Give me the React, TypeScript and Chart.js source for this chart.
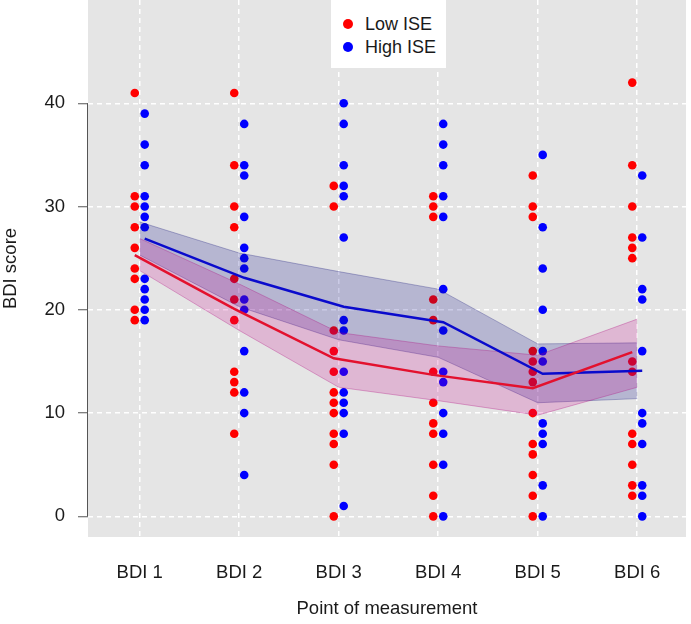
import React, { useEffect, useRef } from 'react';
import { Chart, registerables } from 'chart.js';

Chart.register(...registerables);

// ---------- data ----------
const categories = ['BDI 1', 'BDI 2', 'BDI 3', 'BDI 4', 'BDI 5', 'BDI 6'];
const yTicks = [0, 10, 20, 30, 40];

// individual BDI scores per point of measurement
const lowISEScores = [
  [41, 31, 30, 28, 26, 24, 23, 20, 19],
  [41, 34, 30, 28, 23, 21, 19, 14, 13, 12, 8],
  [32, 30, 18, 16, 14, 12, 11, 10, 8, 7, 5, 0],
  [31, 30, 29, 21, 19, 14, 11, 9, 8, 5, 2, 0],
  [33, 30, 29, 16, 15, 14, 13, 10, 7, 6, 4, 2, 0],
  [42, 34, 30, 27, 26, 25, 15, 14, 8, 7, 5, 3, 2],
];
const highISEScores = [
  [39, 36, 34, 31, 30, 29, 28, 23, 22, 21, 20, 19],
  [38, 34, 33, 29, 26, 25, 24, 21, 20, 16, 12, 10, 4],
  [40, 38, 34, 32, 31, 27, 19, 18, 14, 12, 11, 10, 8, 1],
  [38, 36, 34, 31, 29, 22, 18, 14, 13, 10, 8, 5, 0],
  [35, 28, 24, 20, 16, 15, 9, 8, 7, 3, 0],
  [33, 27, 22, 21, 16, 10, 9, 7, 3, 2, 0],
];

// estimated means and confidence bands
const lowMean = [25.3, 20.1, 15.3, 13.7, 12.4, 15.9];
const highMean = [26.9, 23.1, 20.3, 18.8, 13.8, 14.1];
const lowUpper = [26.9, 22.5, 17.8, 16.5, 15.6, 19.1];
const lowLower = [23.8, 18.0, 12.5, 11.2, 9.8, 12.5];
const highUpper = [28.5, 25.5, 23.7, 22.0, 16.7, 16.8];
const highLower = [25.3, 20.3, 17.1, 15.4, 11.0, 11.4];

// ---------- styling ----------
const FONT = '"Liberation Sans", Arial, Helvetica, sans-serif';
const TEXT = '#1a1a1a';
const DODGE = 0.05;
const RED = '#FF0000';
const BLUE = '#0000FF';

const pts = (groups: number[][], off: number) =>
  groups.flatMap((vals, i) => vals.map((v) => ({ x: i + 1 + off, y: v })));
const series = (vals: number[], off: number) => vals.map((v, i) => ({ x: i + 1 + off, y: v }));

const panelPlugin = {
  id: 'panelBg',
  beforeDraw(chart: any) {
    const { ctx, chartArea: a } = chart;
    ctx.save();
    ctx.fillStyle = '#E5E5E5';
    ctx.fillRect(a.left, a.top, a.right - a.left, a.bottom - a.top);
    ctx.restore();
  },
  afterDraw(chart: any) {
    const { ctx, chartArea: a } = chart;
    const ys = chart.scales.y;
    const x = a.left - 0.5;
    ctx.save();
    ctx.strokeStyle = '#555555';
    ctx.lineWidth = 1;
    ctx.beginPath();
    ctx.moveTo(x, ys.getPixelForValue(yTicks[0]));
    ctx.lineTo(x, ys.getPixelForValue(yTicks[yTicks.length - 1]));
    ctx.stroke();
    ctx.restore();
  },
};

export default function App() {
  const ref = useRef<HTMLCanvasElement>(null);

  useEffect(() => {
    if (!ref.current) return;
    const band = (upper: number[], lower: number[], fillCol: string, edgeCol: string, label: string) => [
      {
        label: label + ' upper',
        data: series(upper, 0),
        borderColor: edgeCol,
        borderWidth: 1,
        backgroundColor: fillCol,
        fill: '+1',
        pointRadius: 0,
        order: 1,
      },
      {
        label: label + ' lower',
        data: series(lower, 0),
        borderColor: edgeCol,
        borderWidth: 1,
        backgroundColor: fillCol,
        fill: false,
        pointRadius: 0,
        order: 1,
      },
    ];

    const chart = new Chart(ref.current, {
      type: 'line',
      data: {
        datasets: [
          {
            label: 'Low ISE mean',
            data: series(lowMean, -DODGE),
            borderColor: '#E3112E',
            borderWidth: 2.5,
            pointRadius: 0,
            fill: false,
            order: 0,
          },
          {
            label: 'High ISE mean',
            data: series(highMean, DODGE),
            borderColor: '#0A0ACC',
            borderWidth: 2.5,
            pointRadius: 0,
            fill: false,
            order: 0,
          },
          ...band(lowUpper, lowLower, 'rgba(200, 0, 140, 0.2)', 'rgba(170, 0, 120, 0.3)', 'Low ISE'),
          ...band(highUpper, highLower, 'rgba(20, 20, 140, 0.22)', 'rgba(20, 20, 120, 0.3)', 'High ISE'),
          {
            label: 'Low ISE',
            data: pts(lowISEScores, -DODGE),
            showLine: false,
            pointRadius: 4.3,
            pointBorderWidth: 0,
            pointBackgroundColor: RED,
            pointBorderColor: RED,
            order: 2,
          },
          {
            label: 'High ISE',
            data: pts(highISEScores, DODGE),
            showLine: false,
            pointRadius: 4.3,
            pointBorderWidth: 0,
            pointBackgroundColor: BLUE,
            pointBorderColor: BLUE,
            order: 2,
          },
        ] as any,
      },
      options: {
        animation: false,
        responsive: false,
        devicePixelRatio: 1,
        events: [],
        layout: { autoPadding: false, padding: { left: 0, top: 0, right: 5, bottom: 0 } },
        plugins: { legend: { display: false }, tooltip: { enabled: false } },
        scales: {
          x: {
            type: 'linear',
            min: 0.48,
            max: 6.49,
            afterBuildTicks: (s: any) => {
              s.ticks = categories.map((_, i) => ({ value: i + 1 }));
            },
            afterFit: (s: any) => {
              s.height = 87;
              s.paddingLeft = 0;
              s.paddingRight = 0;
            },
            grid: { color: '#FFFFFF', lineWidth: 1.5, drawTicks: false },
            border: { display: false, dash: [5, 4] },
            ticks: {
              padding: 25,
              color: TEXT,
              autoSkip: false,
              maxRotation: 0,
              font: { family: FONT, size: 18.5 },
              callback: (v: any) => categories[Math.round(Number(v)) - 1] ?? '',
            },
            title: {
              display: true,
              text: 'Point of measurement',
              color: TEXT,
              font: { family: FONT, size: 18.5 },
              padding: { top: 4, bottom: 4 },
            },
          },
          y: {
            type: 'linear',
            min: -2,
            max: 50,
            afterBuildTicks: (s: any) => {
              s.ticks = yTicks.map((v) => ({ value: v }));
            },
            afterFit: (s: any) => {
              s.width = 88;
              s.paddingTop = 0;
              s.paddingBottom = 0;
            },
            grid: {
              color: '#FFFFFF',
              lineWidth: 1.5,
              drawTicks: true,
              tickColor: '#555555',
              tickWidth: 1,
              tickLength: 10,
              tickBorderDash: [],
            },
            border: { display: false, dash: [5, 4] },
            ticks: {
              padding: 13,
              color: TEXT,
              font: { family: FONT, size: 18.5 },
            },
            title: {
              display: true,
              text: 'BDI score',
              color: TEXT,
              font: { family: FONT, size: 18.5 },
              padding: { top: 0, bottom: 0 },
            },
          },
        },
      } as any,
      plugins: [panelPlugin],
    });
    return () => chart.destroy();
  }, []);

  const dot = (color: string, top: number) => (
    <div
      style={{
        position: 'absolute',
        left: 12,
        top,
        width: 10,
        height: 10,
        borderRadius: '50%',
        background: color,
      }}
    />
  );
  const label = (text: string, top: number) => (
    <div style={{ position: 'absolute', left: 34, top, lineHeight: '22px', whiteSpace: 'nowrap' }}>{text}</div>
  );

  return (
    <div style={{ position: 'fixed', left: 0, top: 0, width: 691, height: 624, background: '#fff' }}>
      <canvas ref={ref} width={691} height={624} style={{ display: 'block' }} />
      <div
        style={{
          position: 'absolute',
          left: 331,
          top: 0,
          width: 115,
          height: 68,
          background: '#FFFFFF',
          fontFamily: FONT,
          fontSize: 18,
          color: TEXT,
        }}
      >
        {dot(RED, 19)}
        {label('Low ISE', 13)}
        {dot(BLUE, 42)}
        {label('High ISE', 36)}
      </div>
    </div>
  );
}
